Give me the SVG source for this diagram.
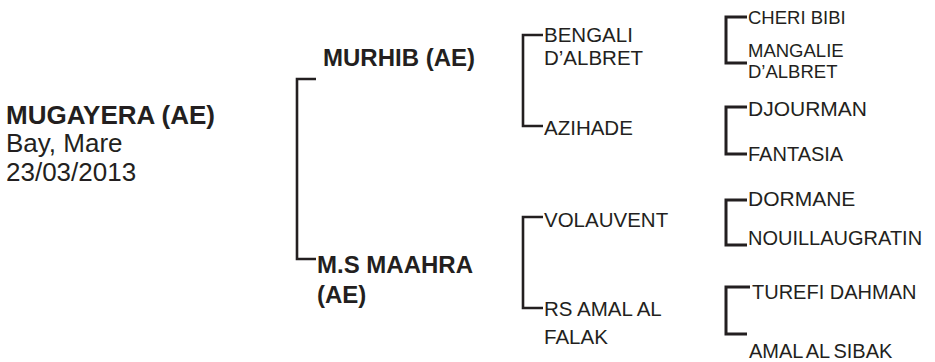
<svg xmlns="http://www.w3.org/2000/svg" width="935" height="362" viewBox="0 0 935 362">
<style>
text{font-family:"Liberation Sans",Arial,sans-serif;fill:#231f20}
.b{font-weight:bold}
.m{font-size:26px}
.g1{font-size:24px}
.g2{font-size:20.5px}
.g3{font-size:20px}
.s{font-size:18.5px}
.l{font-size:21px}
.c{fill:none;stroke:#231f20;stroke-width:2.6}
.c3{fill:none;stroke:#231f20;stroke-width:3}
</style>
<rect width="935" height="362" fill="#fff"/>
<g id="connectors">
<path class="c" d="M316,79 H297 V259 H316"/>
<path class="c" d="M543,35 H523 V126 H543"/>
<path class="c" d="M543,217 H523 V308 H543"/>
<path class="c3" d="M747,17 H726 V63 H747"/>
<path class="c3" d="M747,107 H726 V154 H747"/>
<path class="c3" d="M747,200 H726 V245 H747"/>
<path class="c3" d="M750,287 H726 V334 H747"/>
</g>
<g id="subject">
<text class="m b" x="6" y="124">MUGAYERA (AE)</text>
<text class="m" x="6" y="152">Bay, Mare</text>
<text class="m" x="6" y="181">23/03/2013</text>
</g>
<g id="sire"><text class="g1 b" x="323" y="66">MURHIB (AE)</text></g>
<g id="dam"><text class="g1 b" x="317" y="273">M.S MAAHRA</text><text class="g1 b" x="317" y="303">(AE)</text></g>
<g id="ss"><text class="g2" x="544" y="42">BENGALI</text><text class="g2" x="544" y="65">D’ALBRET</text></g>
<g id="sd"><text class="g2" x="544" y="135">AZIHADE</text></g>
<g id="ds"><text class="g2" x="544" y="227">VOLAUVENT</text></g>
<g id="dd"><text class="g2" x="544" y="316">RS AMAL AL</text><text class="g2" x="544" y="344">FALAK</text></g>
<g id="sss"><text class="s" x="748" y="24">CHERI BIBI</text></g>
<g id="ssd"><text class="s" x="748" y="57">MANGALIE</text><text class="s" x="748" y="78">D’ALBRET</text></g>
<g id="sds"><text class="l" x="748" y="116">DJOURMAN</text></g>
<g id="sdd"><text class="g3" x="748" y="161">FANTASIA</text></g>
<g id="dss"><text class="l" x="748" y="206">DORMANE</text></g>
<g id="dsd"><text class="g3" x="748" y="245">NOUILLAUGRATIN</text></g>
<g id="dds"><text class="g3" x="752" y="299">TUREFI DAHMAN</text></g>
<g id="ddd"><text class="g3" x="749" y="358" style="word-spacing:-1.5px">AMAL AL SIBAK</text></g>
</svg>
